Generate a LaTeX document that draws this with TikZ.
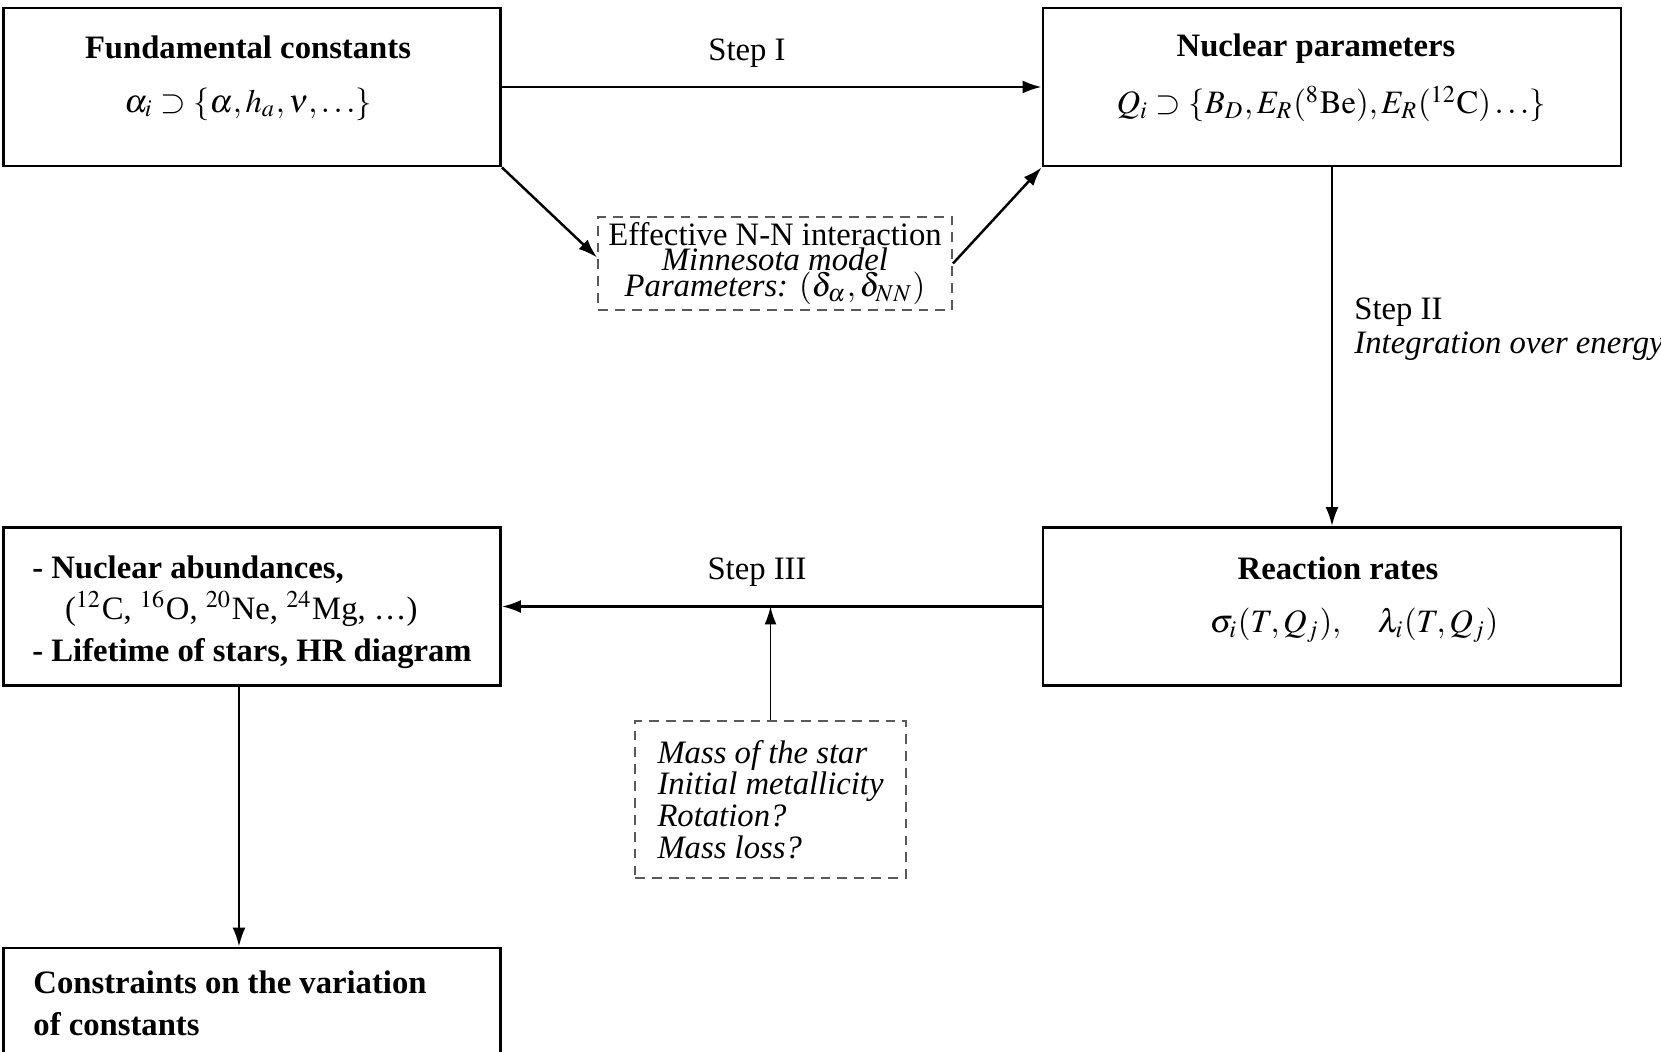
\documentclass[tikz,border=0pt]{standalone}
\usepackage{amsmath}
\usepackage{mathptmx}
\usepackage{fontspec}
\setmainfont{Liberation Serif}
\usepackage{tikz}
\usetikzlibrary{arrows.meta}
\usetikzlibrary{positioning}

\tikzset{
  box/.style={draw, line width=0.8pt, inner sep=0pt, minimum width=4.97cm, minimum height=1.58cm},
  widebox/.style={box, minimum width=5.78cm},
  dbox/.style={draw=black!65, dashed, dash pattern=on 2.8pt off 2pt, line width=0.55pt, inner sep=0pt},
  flow/.style={-{Latex[length=1.9mm,width=1.3mm]}, line width=0.7pt},
  thinflow/.style={-{Latex[length=1.8mm,width=1.2mm]}, line width=0.5pt},
}

\begin{document}
\begin{tikzpicture}[font=\fontsize{9.3}{11}\selectfont]
\useasboundingbox (0,0) rectangle (16.61,10.51);
% boxes
\node[box] (fund) at (2.52,9.64) {};
\node[widebox] (nucl) at (13.32,9.64) {};
\node[widebox] (rates) at (13.32,4.445) {};
\node[box] (abund) at (2.52,4.445) {};
\node[box, minimum height=1.7cm] (constr) at (2.52,0.18) {};
% texts in the boxes
\node (fundtitle) at (2.48,10.04) {\textbf{Fundamental constants}};
\node (fundmath) at (2.48,9.47) {$\alpha_i \supset \{\alpha, h_a, \nu, \ldots\}$};
\node (nucltitle) at (13.16,10.02) {\textbf{Nuclear parameters}};
\node (nuclmath) at (13.31,9.47) {$Q_i \supset \{B_D, E_R(^8\mathrm{Be}), E_R(^{12}\mathrm{C})\ldots\}$};
\node (ratestitle) at (13.38,4.83) {\textbf{Reaction rates}};
\node (ratesmath) at (13.54,4.26) {$\sigma_i(T,Q_j),\quad \lambda_i(T,Q_j)$};
\node[align=left, font=\fontsize{9.3}{11.8}\selectfont] (abundtxt) at (2.52,4.39)
  {\textbf{- Nuclear abundances,}\\
   \quad($^{12}$C, $^{16}$O, $^{20}$Ne, $^{24}$Mg, \ldots)\\
   \textbf{- Lifetime of stars, HR diagram}};
\node[anchor=west, align=left, font=\fontsize{9.3}{12}\selectfont] (constrtxt) at (0.21,0.48)
  {\textbf{Constraints on the variation}\\ \textbf{of constants}};
% dashed boxes
\node[dbox, minimum width=3.54cm, minimum height=0.93cm, align=center,
  font=\fontsize{9.3}{7.2}\selectfont] (nn) at (7.75,7.875)
  {Effective N-N interaction\\ \textit{Minnesota model}\\ \textit{Parameters:} $(\delta_\alpha, \delta_{NN})$};
\node[dbox, minimum width=2.71cm, minimum height=1.57cm, align=left,
  font=\fontsize{9.3}{9}\selectfont\itshape] (mass) at (7.705,2.515)
  {Mass of the star\\ Initial metallicity\\ Rotation?\\ Mass loss?};
% step labels
\node (stepone) at (7.47,9.98) {Step I};
\node[anchor=west, align=left, font=\fontsize{9.3}{9.7}\selectfont] (steptwo) at (13.42,7.22)
  {Step II\\ \textit{Integration over energy}};
\node (stepthree) at (7.57,4.79) {Step III};
% arrows
\draw [flow] (fund) -- (nucl);
\draw [flow] (fund.south east) -- ([yshift=0.06cm]nn.west);
\draw [flow] (nn.east) -- (nucl.south west);
\draw [flow] (nucl) -- (rates);
\draw [flow] (rates.west) -- (abund.east);
\draw [thinflow] (mass.north) -- (mass.north |- rates.west);
\draw [flow] ([xshift=-0.13cm]abund.south) -- ([xshift=-0.13cm]constr.north);
\end{tikzpicture}
\end{document}
